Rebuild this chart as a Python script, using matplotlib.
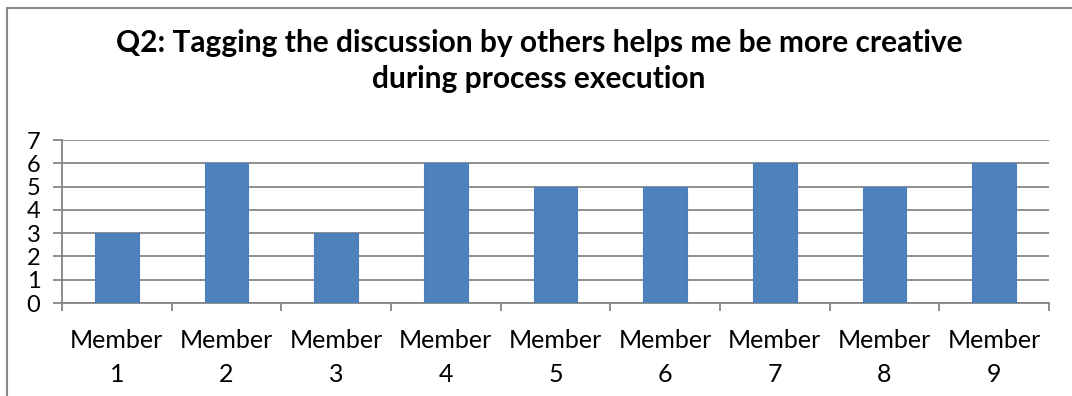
import matplotlib.pyplot as plt
from matplotlib.lines import Line2D
import numpy as np

plt.rcParams['font.family'] = ['Lato', 'DejaVu Sans']

members = ['Member\n1', 'Member\n2', 'Member\n3', 'Member\n4', 'Member\n5',
           'Member\n6', 'Member\n7', 'Member\n8', 'Member\n9']
scores = [3, 6, 3, 6, 5, 5, 6, 5, 6]
y_ticks = [0, 1, 2, 3, 4, 5, 6, 7]

bar_color = '#4F81BD'
grid_color = '#868686'

fig = plt.figure(figsize=(10.72, 3.96), dpi=100)
ax = fig.add_axes([62 / 1072, 1 - 303 / 396, (1049 - 62) / 1072, (303 - 140) / 396])

x = np.arange(len(members))
ax.bar(x, scores, width=0.4, color=bar_color, edgecolor='#4A7EBB', linewidth=0.8, zorder=3)

ax.set_xlim(-0.5, len(members) - 0.5)
ax.set_ylim(0, 7)
ax.set_yticks(y_ticks)
ax.set_yticklabels([str(v) for v in y_ticks], fontsize=17)
ax.set_xticks(x)
ax.set_xticklabels(members, fontsize=18, linespacing=1.55)
ax.set_xticks(np.arange(-0.5, len(members), 1.0), minor=True)

ax.grid(axis='y', color=grid_color, linewidth=1.3, zorder=0)
ax.tick_params(axis='y', length=6.5, width=1.3, color=grid_color, pad=9)
ax.tick_params(axis='x', which='major', length=0, pad=19)
ax.tick_params(axis='x', which='minor', length=6, width=1.3, color=grid_color)

for side in ['top', 'right']:
    ax.spines[side].set_visible(False)
for side in ['left', 'bottom']:
    ax.spines[side].set_color(grid_color)
    ax.spines[side].set_linewidth(1.3)

fig.text(539 / 1072, 1 - 61 / 396,
         'Q2: Tagging the discussion by others helps me be more creative\nduring process execution',
         ha='center', va='center', fontsize=21.5, fontweight='bold', linespacing=1.38)

# chart frame (top and left edges)
fig.add_artist(Line2D([7 / 1072, 7 / 1072], [0, 1 - 8 / 396], transform=fig.transFigure,
                      color='#898989', linewidth=1.5))
fig.add_artist(Line2D([7 / 1072, 1], [1 - 8 / 396, 1 - 8 / 396], transform=fig.transFigure,
                      color='#898989', linewidth=1.5))

fig.savefig('out.png', dpi=100)
